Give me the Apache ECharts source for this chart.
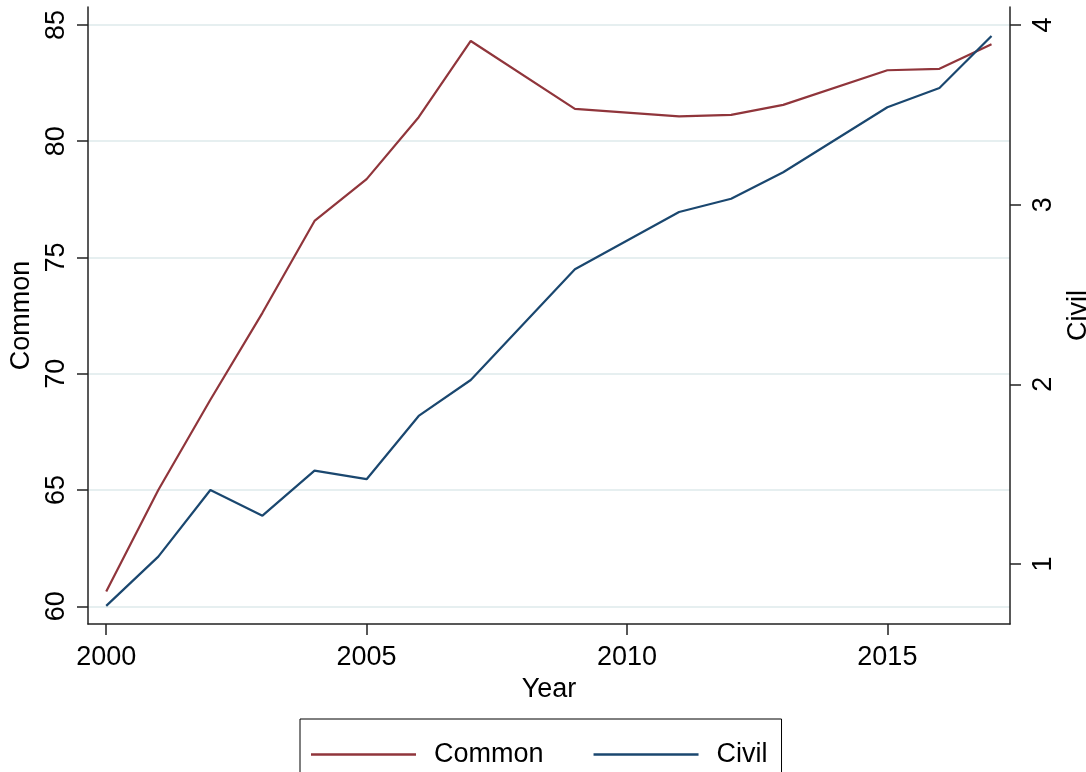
<!DOCTYPE html>
<html>
<head>
<meta charset="utf-8">
<script src="https://cdn.jsdelivr.net/npm/echarts@6/dist/echarts.min.js"></script>
<style>
html,body{margin:0;padding:0;background:#fff;overflow:hidden;width:1086px;height:772px;}
#chart{width:1086px;height:772px;position:absolute;left:0;top:0;}
</style>
</head>
<body>
<div id="chart"></div>
<script>
const years = [2000, 2001, 2002, 2003, 2004, 2005, 2006, 2007, 2009, 2011, 2012, 2013, 2015, 2016, 2017];
const common = [60.64, 65.0, 68.88, 72.62, 76.57, 78.37, 81.03, 84.31, 81.39, 81.07, 81.13, 81.56, 83.05, 83.11, 84.17];
const civil = [0.767, 1.041, 1.412, 1.269, 1.520, 1.472, 1.824, 2.024, 2.640, 2.959, 3.033, 3.180, 3.542, 3.649, 3.939];
const xTicks = [2000, 2005, 2010, 2015];
const leftTicks = [60, 65, 70, 75, 80, 85];
const rightTicks = [1, 2, 3, 4];

const FONT = '"Liberation Sans", Arial, sans-serif';
const FS = 27;
const AXIS_COLOR = '#222';

const chart = echarts.init(document.getElementById('chart'), null, {renderer: 'canvas', width: 1086, height: 772});
chart.setOption({
  backgroundColor: '#ffffff',
  animation: false,
  textStyle: {fontFamily: FONT, color: '#000'},
  grid: {left: 88, right: 76, top: 7, height: 617, containLabel: false, outerBoundsMode: 'none'},
  legend: {
    left: 300, top: 719,
    padding: [22, 14, 22, 11],
    borderColor: '#000', borderWidth: 1,
    icon: 'rect',
    itemWidth: 105, itemHeight: 2.5, itemGap: 50,
    textStyle: {fontFamily: FONT, fontSize: FS, color: '#000', padding: [0, 0, 0, 13]},
    data: ['Common', 'Civil']
  },
  xAxis: {
    type: 'value', min: 1999.65, max: 2017.355,
    name: 'Year', nameLocation: 'middle', nameGap: 48,
    nameTextStyle: {fontFamily: FONT, fontSize: FS, color: '#000'},
    axisLine: {show: true, lineStyle: {color: AXIS_COLOR, width: 1.5}},
    axisTick: {show: true, length: 11, customValues: xTicks, lineStyle: {color: AXIS_COLOR, width: 1.5}},
    axisLabel: {customValues: xTicks, fontFamily: FONT, fontSize: FS, color: '#000', margin: 20,
      formatter: v => String(v)},
    splitLine: {show: false}
  },
  yAxis: [
    {
      type: 'value', position: 'left', min: 59.24, max: 85.77,
      name: 'Common', nameLocation: 'middle', nameGap: 50, nameRotate: 90,
      nameTextStyle: {fontFamily: FONT, fontSize: FS, color: '#000'},
      axisLine: {show: true, lineStyle: {color: AXIS_COLOR, width: 1.5}},
      axisTick: {show: true, length: 11, customValues: leftTicks, lineStyle: {color: AXIS_COLOR, width: 1.5}},
      axisLabel: {customValues: leftTicks, rotate: 90, fontFamily: FONT, fontSize: FS, color: '#000', margin: 18,
        formatter: v => String(v)},
      splitLine: {show: true, lineStyle: {color: '#e6eff0', width: 2}}
    },
    {
      type: 'value', position: 'right', min: 0.666, max: 4.1,
      name: 'Civil', nameLocation: 'middle', nameGap: 48, nameRotate: 90,
      nameTextStyle: {fontFamily: FONT, fontSize: FS, color: '#000'},
      axisLine: {show: true, lineStyle: {color: AXIS_COLOR, width: 1.5}},
      axisTick: {show: true, length: 11, customValues: rightTicks, lineStyle: {color: AXIS_COLOR, width: 1.5}},
      axisLabel: {customValues: rightTicks, rotate: 90, fontFamily: FONT, fontSize: FS, color: '#000', margin: 20,
        formatter: v => String(v)},
      splitLine: {show: false}
    }
  ],
  series: [
    {
      name: 'Common', type: 'line', yAxisIndex: 0, symbol: 'none', showSymbol: false,
      color: '#90353b', lineStyle: {color: '#90353b', width: 2.2},
      data: years.map((y, i) => [y, common[i]])
    },
    {
      name: 'Civil', type: 'line', yAxisIndex: 1, symbol: 'none', showSymbol: false,
      color: '#1a476f', lineStyle: {color: '#1a476f', width: 2.2},
      data: years.map((y, i) => [y, civil[i]])
    }
  ]
});
</script>
</body>
</html>
